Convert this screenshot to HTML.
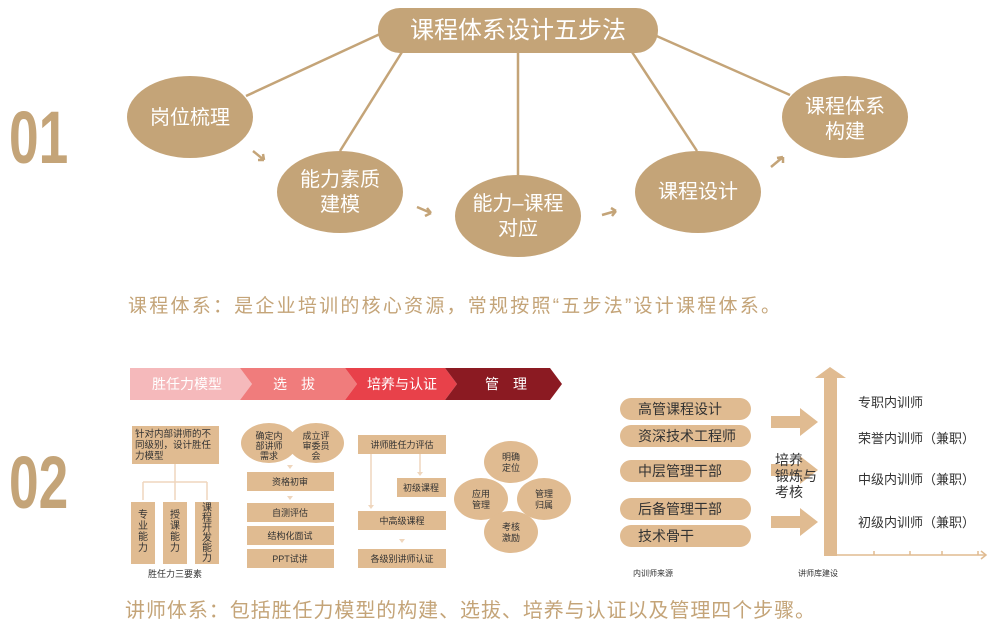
<!DOCTYPE html>
<html><head><meta charset="utf-8"><style>
html,body{margin:0;padding:0;background:#fff;width:992px;height:631px;overflow:hidden}
svg{display:block}
text{font-family:"Liberation Sans","Noto Sans CJK SC",sans-serif}
</style></head><body>
<svg width="992" height="631" viewBox="0 0 992 631" xmlns="http://www.w3.org/2000/svg">
<g fill="#c4a478">
<text x="9" y="163" font-size="74" font-weight="bold" transform="translate(9 0) scale(0.72 1) translate(-9 0)">01</text>
<text x="9" y="508" font-size="74" font-weight="bold" transform="translate(9 0) scale(0.72 1) translate(-9 0)">02</text>
</g>
<!-- top -->
<g stroke="#c4a478" stroke-width="2.5" fill="none">
<line x1="380" y1="34" x2="246" y2="96"/>
<line x1="402" y1="52" x2="340" y2="151"/>
<line x1="518" y1="52" x2="518" y2="175"/>
<line x1="632" y1="52" x2="697" y2="151"/>
<line x1="652" y1="34" x2="790" y2="95"/>
<path d="M253,151 L264,160 M264,160 L258,160 M264,160 L263,154"/>
<path d="M417,207 L431,213 M431,213 L425,216 M431,213 L427,208"/>
<path d="M602,215 L616,211 M616,211 L611,208 M616,211 L612,216"/>
<path d="M771,167 L783,157 M783,157 L777,158 M783,157 L783,163"/>
</g>
<g fill="#c4a478">
<rect x="378" y="8" width="280" height="45" rx="22"/>
<ellipse cx="190" cy="117" rx="63" ry="41"/>
<ellipse cx="340" cy="192" rx="63" ry="41"/>
<ellipse cx="518" cy="216" rx="63" ry="41"/>
<ellipse cx="698" cy="192" rx="63" ry="41"/>
<ellipse cx="845" cy="117" rx="63" ry="41"/>
</g>
<g fill="#fff" font-size="20" text-anchor="middle">
<text x="518" y="38" font-size="24">课程体系设计五步法</text>
<text x="190" y="124">岗位梳理</text>
<text x="340" y="186">能力素质</text><text x="340" y="211">建模</text>
<text x="518" y="210">能力–课程</text><text x="518" y="235">对应</text>
<text x="698" y="198">课程设计</text>
<text x="845" y="113">课程体系</text><text x="845" y="138">构建</text>
</g>
<text x="128" y="312" font-size="19" fill="#c4a478" textLength="652" lengthAdjust="spacing">课程体系：是企业培训的核心资源，常规按照“五步法”设计课程体系。</text>
<!-- chevrons -->
<polygon points="130,368 240,368 252,384 240,400 130,400" fill="#f5b9bb"/>
<polygon points="240,368 345,368 357,384 345,400 240,400 252,384" fill="#f07c7c"/>
<polygon points="345,368 445,368 457,384 445,400 345,400 357,384" fill="#e8414a"/>
<polygon points="445,368 550,368 562,384 550,400 445,400 457,384" fill="#8b1a22"/>
<g fill="#fff" font-size="14" text-anchor="middle">
<text x="187" y="389">胜任力模型</text><text x="294" y="389">选　拔</text><text x="402" y="389">培养与认证</text><text x="506" y="389">管　理</text>
</g>
<!-- col1 -->
<g fill="#e0bb91">
<rect x="132" y="426" width="87" height="38"/>
<rect x="131" y="502" width="24" height="62"/><rect x="163" y="502" width="24" height="62"/><rect x="195" y="502" width="24" height="62"/>
</g>
<g stroke="#efd6bd" stroke-width="1.5" fill="none">
<path d="M175,464 V482 M143,482 H207 M143,482 V500 M175,482 V500 M207,482 V500" />
</g>
<g fill="#333" font-size="9.5">
<text x="135" y="437">针对内部讲师的不</text><text x="135" y="448">同级别，设计胜任</text><text x="135" y="459">力模型</text>
</g>
<g fill="#333" font-size="10" text-anchor="middle">
<text x="143" y="518">专</text><text x="143" y="529">业</text><text x="143" y="540">能</text><text x="143" y="551">力</text>
<text x="175" y="518">授</text><text x="175" y="529">课</text><text x="175" y="540">能</text><text x="175" y="551">力</text>
<text x="207" y="511">课</text><text x="207" y="521">程</text><text x="207" y="531">开</text><text x="207" y="541">发</text><text x="207" y="551">能</text><text x="207" y="561">力</text>
<text x="175" y="577" font-size="9">胜任力三要素</text>
</g>
<!-- col2 -->
<g fill="#e0bb91">
<ellipse cx="269" cy="443" rx="28" ry="20"/><ellipse cx="316" cy="443" rx="28" ry="20"/>
<rect x="247" y="472" width="87" height="19"/><rect x="247" y="503" width="87" height="19"/><rect x="247" y="526" width="87" height="19"/><rect x="247" y="549" width="87" height="19"/>
</g>
<g fill="#efd6bd"><path d="M287,465 h6 l-3,4z M287,496 h6 l-3,4z"/></g>
<g fill="#333" font-size="9" text-anchor="middle">
<text x="269" y="439">确定内</text><text x="269" y="449">部讲师</text><text x="269" y="459">需求</text>
<text x="316" y="439">成立评</text><text x="316" y="449">审委员</text><text x="316" y="459">会</text>
<text x="290" y="485">资格初审</text><text x="290" y="516">自测评估</text><text x="290" y="539">结构化面试</text><text x="290" y="562">PPT试讲</text>
</g>
<!-- col3 -->
<g fill="#e0bb91">
<rect x="358" y="435" width="88" height="19"/><rect x="397" y="478" width="49" height="19"/><rect x="358" y="511" width="88" height="19"/><rect x="358" y="549" width="88" height="19"/>
</g>
<g stroke="#efd6bd" stroke-width="1.5"><line x1="371" y1="454" x2="371" y2="505"/><line x1="420" y1="454" x2="420" y2="472"/></g>
<g fill="#efd6bd"><path d="M368,505 h6 l-3,4z M417,472 h6 l-3,4z M399,539 h6 l-3,4z"/></g>
<g fill="#333" font-size="9" text-anchor="middle">
<text x="402" y="448">讲师胜任力评估</text><text x="421" y="491">初级课程</text><text x="402" y="524">中高级课程</text><text x="402" y="562">各级别讲师认证</text>
</g>
<!-- col4 -->
<g fill="#e0bb91">
<ellipse cx="511" cy="462" rx="27" ry="21"/><ellipse cx="481" cy="499" rx="27" ry="21"/><ellipse cx="544" cy="499" rx="27" ry="21"/><ellipse cx="511" cy="532" rx="27" ry="21"/>
</g>
<g fill="#333" font-size="9" text-anchor="middle">
<text x="511" y="460">明确</text><text x="511" y="471">定位</text>
<text x="481" y="497">应用</text><text x="481" y="508">管理</text>
<text x="544" y="497">管理</text><text x="544" y="508">归属</text>
<text x="511" y="530">考核</text><text x="511" y="541">激励</text>
</g>
<!-- right -->
<g fill="#e0bb91">
<rect x="620" y="398" width="131" height="22" rx="11"/><rect x="620" y="425" width="131" height="22" rx="11"/><rect x="620" y="460" width="131" height="22" rx="11"/><rect x="620" y="498" width="131" height="22" rx="11"/><rect x="620" y="525" width="131" height="22" rx="11"/>
<polygon points="771,416 800,416 800,408 818,422 800,436 800,428 771,428"/>
<polygon points="771,464 800,464 800,456 818,470 800,484 800,476 771,476"/>
<polygon points="771,516 800,516 800,508 818,522 800,536 800,528 771,528"/>
<polygon points="824,556 824,378 815,378 830,367 846,378 837,378 837,556"/>
</g>
<g stroke="#e0bb91" stroke-width="1.5" fill="none"><line x1="837" y1="555" x2="985" y2="555"/><path d="M874,551v4 M910,551v4 M942,551v4 M978,551v4 M981,551 l5,4 l-5,4"/></g>
<g fill="#333" font-size="14">
<text x="638" y="414">高管课程设计</text><text x="638" y="441">资深技术工程师</text><text x="638" y="476">中层管理干部</text><text x="638" y="514">后备管理干部</text><text x="638" y="541">技术骨干</text>
<text x="775" y="465">培养</text><text x="775" y="481">锻炼与</text><text x="775" y="497">考核</text>
</g>
<g fill="#333" font-size="13">
<text x="858" y="407">专职内训师</text><text x="858" y="443">荣誉内训师（兼职）</text><text x="858" y="484">中级内训师（兼职）</text><text x="858" y="527">初级内训师（兼职）</text>
</g>
<g fill="#333" font-size="8"><text x="633" y="576">内训师来源</text><text x="798" y="576">讲师库建设</text></g>
<text x="125" y="617" font-size="20" fill="#c4a478" textLength="690" lengthAdjust="spacing">讲师体系：包括胜任力模型的构建、选拔、培养与认证以及管理四个步骤。</text>
</svg>
</body></html>
